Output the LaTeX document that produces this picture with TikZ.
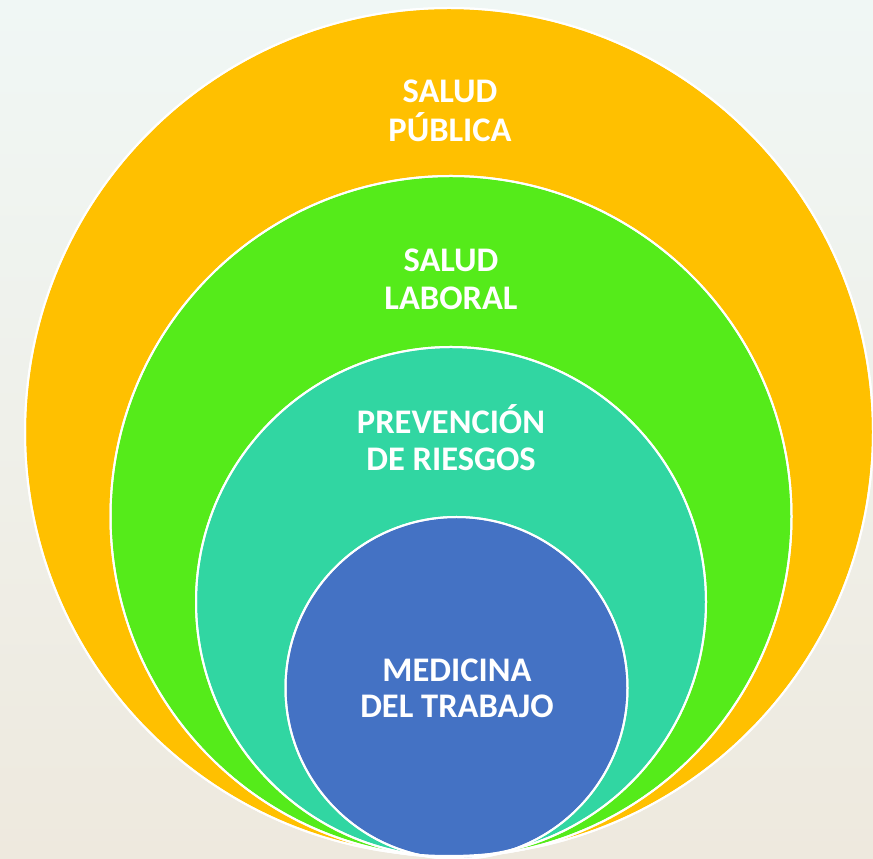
\documentclass[tikz,border=0pt]{standalone}
\usepackage{fontspec}
\setmainfont{Carlito}
\definecolor{cOrange}{RGB}{255,192,0}
\definecolor{cGreen}{RGB}{85,235,26}
\definecolor{cTeal}{RGB}{49,214,162}
\definecolor{cBlue}{RGB}{68,114,196}
\definecolor{bgTop}{RGB}{240,247,245}
\definecolor{bgMid}{RGB}{244,245,240}
\definecolor{bgBot}{RGB}{238,233,222}
\begin{document}
\begin{tikzpicture}[x=1pt,y=1pt,
  ring/.style={draw=white,line width=2pt},
  lbl/.style={text=white,font=\bfseries\fontsize{34.5}{39}\selectfont,anchor=base,inner sep=0pt}]
\useasboundingbox (0,0) rectangle (873,859);
\clip (0,0) rectangle (873,859);
\shade[top color=bgTop,middle color=bgMid,bottom color=bgBot] (0,0) rectangle (873,859);
\fill[ring,fill=cOrange] (449,427) circle (424);
\fill[ring,fill=cGreen] (451,342.5) circle (340.5);
\fill[ring,fill=cTeal] (451,257) circle (255);
\fill[ring,fill=cBlue] (456.5,171) circle (171);
\draw[ring] (449,427) circle (424);
\draw[ring] (451,342.5) circle (340.5);
\draw[ring] (451,257) circle (255);
\draw[ring] (456.5,171) circle (171);
\node[lbl] (pub1) at (450,756) {SALUD};
\node[lbl] (pub2) at (450,717) {PÚBLICA};
\node[lbl] (lab1) at (451,587) {SALUD};
\node[lbl] (lab2) at (451,549) {LABORAL};
\node[lbl] (pre1) at (451,425) {PREVENCIÓN};
\node[lbl] (pre2) at (451,388) {DE RIESGOS};
\node[lbl] (med1) at (457,177) {MEDICINA};
\node[lbl] (med2) at (457,141) {DEL TRABAJO};
\end{tikzpicture}
\end{document}
